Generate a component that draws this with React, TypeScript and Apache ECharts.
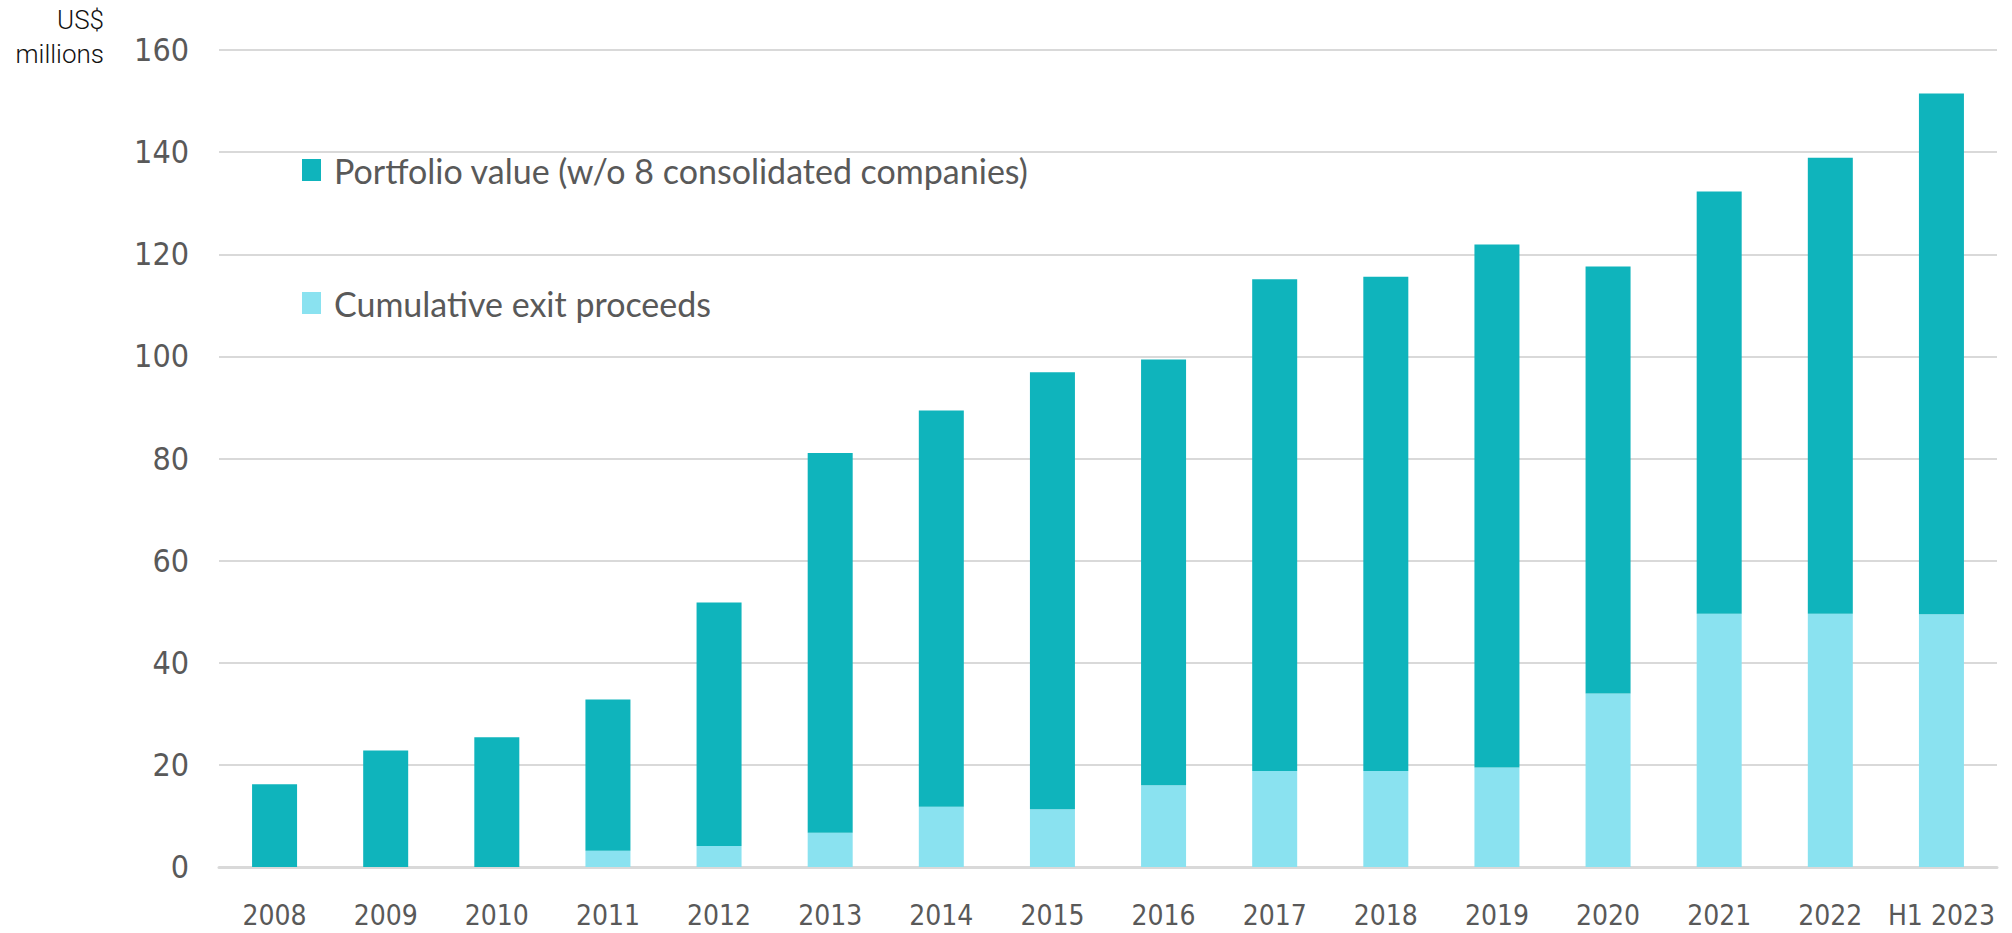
import React, { useEffect, useRef } from "react";
import * as echarts from "echarts";

const categories = ["2008", "2009", "2010", "2011", "2012", "2013", "2014", "2015", "2016", "2017", "2018", "2019", "2020", "2021", "2022", "H1 2023"];
const exitProceeds = [0, 0, 0, 3.2, 4.1, 6.7, 11.8, 11.3, 16.0, 18.8, 18.8, 19.5, 34.0, 49.6, 49.6, 49.5];
const portfolioValue = [16.2, 22.8, 25.4, 29.6, 47.7, 74.4, 77.6, 85.6, 83.4, 96.3, 96.8, 102.4, 83.6, 82.7, 89.3, 102.0];
const yTicks = { min: 0, max: 160, interval: 20 };

const PORTFOLIO = "Portfolio value (w/o 8 consolidated companies)";
const EXIT = "Cumulative exit proceeds";
const DARK = "#0FB4BC";
const LIGHT = "#8AE2F0";
const AXIS_FONT = "'Liberation Sans Narrow', 'DejaVu Sans Condensed', sans-serif";

export default function App() {
  const ref = useRef<HTMLDivElement>(null);
  useEffect(() => {
    document.body.style.margin = "0";
    if (!ref.current) return;
    const chart = echarts.init(ref.current, null, { renderer: "svg" });
    chart.setOption({
      animation: false,
      backgroundColor: "#ffffff",
      grid: { left: 219, right: 15, top: 50, bottom: 66, containLabel: false },
      legend: {
        orient: "vertical",
        left: 302,
        top: 150,
        padding: 0,
        itemWidth: 19,
        itemHeight: 22,
        itemGap: 93,
        icon: "rect",
        data: [PORTFOLIO, EXIT],
        textStyle: {
          fontFamily: "Lato, sans-serif",
          fontSize: 34,
          color: "#595959",
          lineHeight: 40,
          padding: [0, 0, 0, 8],
        },
      },
      xAxis: {
        type: "category",
        data: categories,
        axisLine: { show: true, lineStyle: { color: "#d9d9d9", width: 3 } },
        axisTick: { show: false },
        axisLabel: { interval: 0, fontFamily: AXIS_FONT, fontSize: 28, color: "#595959", margin: 34 },
      },
      yAxis: {
        type: "value",
        min: yTicks.min,
        max: yTicks.max,
        interval: yTicks.interval,
        axisLine: { show: false },
        axisTick: { show: false },
        axisLabel: { fontFamily: AXIS_FONT, fontSize: 32, color: "#595959", margin: 30 },
        splitLine: { lineStyle: { color: "#d9d9d9", width: 2 } },
      },
      graphic: [
        {
          type: "text",
          x: 104,
          y: 20,
          style: {
            text: "US$",
            align: "right",
            verticalAlign: "middle",
            fontFamily: "Roboto, sans-serif",
            fontWeight: 300,
            fontSize: 26,
            fill: "#111111",
          },
        },
        {
          type: "text",
          x: 104,
          y: 54,
          style: {
            text: "millions",
            align: "right",
            verticalAlign: "middle",
            fontFamily: "Roboto, sans-serif",
            fontWeight: 300,
            fontSize: 26,
            fill: "#111111",
          },
        },
      ],
      series: [
        {
          name: EXIT,
          type: "bar",
          stack: "total",
          barWidth: 45,
          data: exitProceeds,
          itemStyle: { color: LIGHT },
        },
        {
          name: PORTFOLIO,
          type: "bar",
          stack: "total",
          barWidth: 45,
          data: portfolioValue,
          itemStyle: { color: DARK },
        },
      ],
    });
    return () => chart.dispose();
  }, []);
  return <div ref={ref} style={{ width: 2012, height: 933 }} />;
}
